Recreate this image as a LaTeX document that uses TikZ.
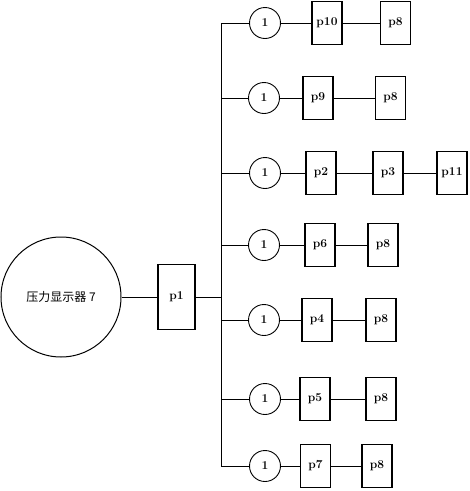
\documentclass[tikz,border=0pt]{standalone}
\usepackage{fontspec}
\newfontfamily\cjk{Noto Sans CJK SC}
\usetikzlibrary{positioning}

\begin{document}
\begin{tikzpicture}[x=1pt,y=-1pt,
      unit/.style={draw,line width=1.2pt,minimum width=30pt,minimum height=43pt,inner sep=1pt,font=\large\bfseries},
      gauge/.style={draw,circle,line width=0.9pt,minimum size=31pt,inner sep=0pt,font=\large\bfseries},
      wire/.style={line width=0.9pt}]
    \useasboundingbox (0,0) rectangle (470,491);
    \node[draw,circle,line width=1pt,minimum size=120pt,font=\cjk\fontsize{12}{14}\selectfont] (disp) at (61,297) {压力显示器 7};
    \node[unit,minimum width=37pt,minimum height=65pt] (p1) at (176.5,297) {p1};
    \coordinate (bp) at (221,297);
    \draw[wire] (disp) -- (p1); \draw[wire] (p1) -- (bp);
    % bus points
    \coordinate (b1) at (221,23);  \coordinate (b2) at (221,98);
    \coordinate (b3) at (221,173); \coordinate (b4) at (221,245);
    \coordinate (b5) at (221,320); \coordinate (b6) at (221,399);
    \coordinate (b7) at (221,466);
    \draw[wire] (b1) -- (b7);
    % rows
    \node[gauge] (c1) at (265,23) {1};
    \node[unit] (p10) at (327,23) {p10};
    \node[unit] (p8a) at (395.5,23) {p8};
    \draw[wire] (b1) -- (c1) -- (p10) -- (p8a);
    \node[gauge] (c2) at (264,98) {1};
    \node[unit] (p9) at (318,98) {p9};
    \node[unit] (p8b) at (390.5,98) {p8};
    \draw[wire] (b2) -- (c2) -- (p9) -- (p8b);
    \node[gauge] (c3) at (265,173) {1};
    \node[unit] (p2) at (321,173) {p2};
    \node[unit] (p3) at (388,173) {p3};
    \node[unit] (p11) at (452,173) {p11};
    \draw[wire] (b3) -- (c3) -- (p2) -- (p3) -- (p11);
    \node[gauge] (c4) at (264,245) {1};
    \node[unit] (p6) at (320,245) {p6};
    \node[unit] (p8d) at (383,245) {p8};
    \draw[wire] (b4) -- (c4) -- (p6) -- (p8d);
    \node[gauge] (c5) at (264,320) {1};
    \node[unit] (p4) at (317,320) {p4};
    \node[unit] (p8e) at (381,320) {p8};
    \draw[wire] (b5) -- (c5) -- (p4) -- (p8e);
    \node[gauge] (c6) at (265,399) {1};
    \node[unit] (p5) at (315,399) {p5};
    \node[unit] (p8f) at (381,399) {p8};
    \draw[wire] (b6) -- (c6) -- (p5) -- (p8f);
    \node[gauge] (c7) at (265,466) {1};
    \node[unit] (p7) at (315.5,466) {p7};
    \node[unit] (p8g) at (377,466) {p8};
    \draw[wire] (b7) -- (c7) -- (p7) -- (p8g);
  \end{tikzpicture}
\end{document}
